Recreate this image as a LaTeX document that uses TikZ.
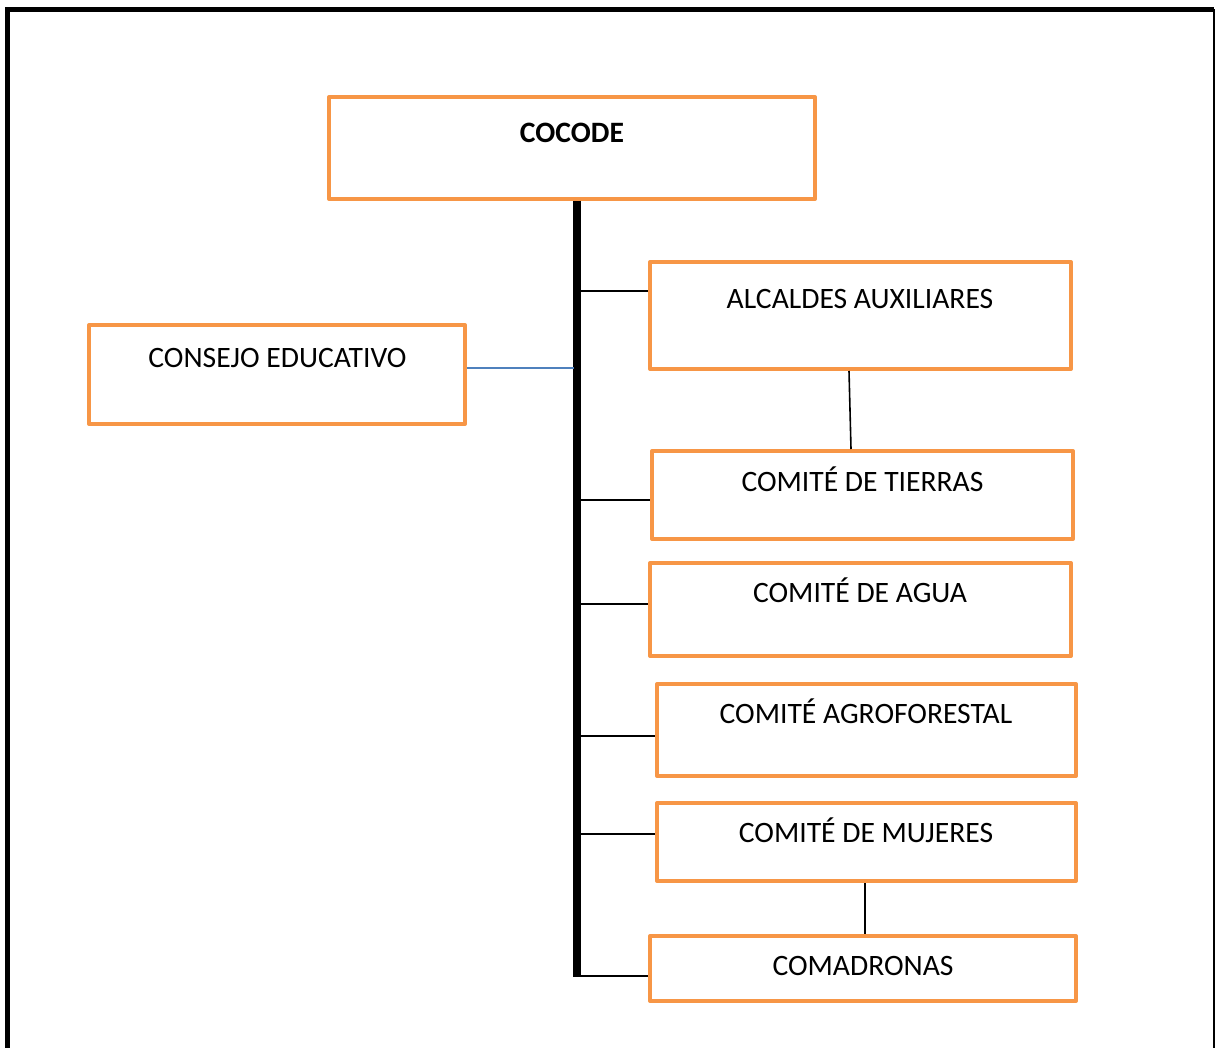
\documentclass[tikz,border=0pt]{standalone}
\usepackage{fontspec}
\setmainfont{Carlito}
\definecolor{orgbox}{HTML}{F79646}
\definecolor{bluelink}{HTML}{4F81BD}
\begin{document}
\begin{tikzpicture}[x=0.75pt,y=-0.75pt,
  orgbox/.style 2 args={draw=orgbox,line width=3pt,line join=round,inner sep=0pt,
    minimum width=#1*0.75pt,minimum height=#2*0.75pt},
  lbl/.style={font=\fontsize{22.2}{26}\selectfont,inner sep=0pt,anchor=base},
  conn/.style={draw=black,line width=0.9pt},
  bar/.style={draw=black,line width=6pt}]
\useasboundingbox (0,0) rectangle (1216,1048);
% outer frame
\draw[line width=3.8pt] (7.5,1048) -- (7.5,9.5) -- (1214,9.5);
\draw[line width=1.5pt] (1214,9.5) -- (1214,1048);
% boxes
\node[orgbox={486}{102}] (cocode) at (572,148) {};
\node[orgbox={421}{107}] (alc) at (860.5,315.5) {};
\node[orgbox={376}{99}] (cons) at (277,374.5) {};
\node[orgbox={421}{88}] (tie) at (862.5,495) {};
\node[orgbox={421}{93}] (agua) at (860.5,609.5) {};
\node[orgbox={419}{92}] (agro) at (866.5,730) {};
\node[orgbox={419}{78}] (muj) at (866.5,842) {};
\node[orgbox={426}{65}] (coma) at (863,968.5) {};
% labels
\node[lbl,font=\fontsize{22.2}{26}\selectfont\bfseries] (tcocode) at (572,142.7) {COCODE};
\node[lbl] (talc) at (860,309) {ALCALDES AUXILIARES};
\node[lbl] (tcons) at (277.5,367.3) {CONSEJO EDUCATIVO};
\node[lbl] (ttie) at (862.5,491) {COMITÉ DE TIERRAS};
\node[lbl] (tagua) at (860,602.7) {COMITÉ DE AGUA};
\node[lbl] (tagro) at (866,723.3) {COMITÉ AGROFORESTAL};
\node[lbl] (tmuj) at (866,842.3) {COMITÉ DE MUJERES};
\node[lbl] (tcoma) at (863,975) {COMADRONAS};
% trunk
\coordinate (top) at (cocode.south -| 577,0);
\coordinate (bot) at (577,977);
\draw[bar] (top) -- (bot);
% branches
\coordinate (b1) at (580,291);
\coordinate (b2) at (580,500);
\coordinate (b3) at (580,604);
\coordinate (b4) at (580,736);
\coordinate (b5) at (580,834);
\coordinate (b6) at (580,976);
\coordinate (b0) at (574,368);
\draw[conn] (b1) -- (b1 -| alc.west);
\draw[conn] (b2) -- (b2 -| tie.west);
\draw[conn] (b3) -- (b3 -| agua.west);
\draw[conn] (b4) -- (b4 -| agro.west);
\draw[conn] (b5) -- (b5 -| muj.west);
\draw[conn] (b6) -- (b6 -| coma.west);
\draw[draw=bluelink,line width=1.1pt] (b0 -| cons.east) -- (b0);
\coordinate (s1) at (849,0);
\coordinate (s2) at (851,0);
\coordinate (s3) at (865,0);
\draw[conn,line width=1.2pt] (alc.south -| s1) -- (tie.north -| s2);
\draw[conn,line width=1.2pt] (muj.south -| s3) -- (coma.north -| s3);
\end{tikzpicture}
\end{document}
